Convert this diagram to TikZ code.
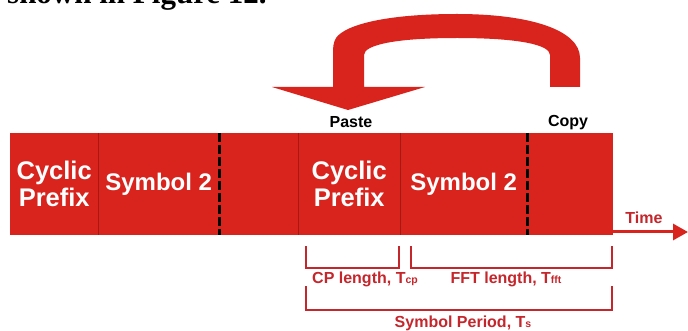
\documentclass[tikz,border=0pt]{standalone}
\usepackage{fontspec}
\setmainfont{Liberation Sans}
\newfontfamily\serifbold{Liberation Serif}
\usetikzlibrary{arrows.meta}
\definecolor{ofdmred}{RGB}{217,35,29}
\definecolor{lblred}{RGB}{196,38,44}
\definecolor{divred}{RGB}{165,25,20}
\newcommand{\lblsub}[1]{\raisebox{-0.5pt}{\fontsize{10.5}{10.5}\selectfont #1}}
\begin{document}
\begin{tikzpicture}[x=1pt,y=-1pt,
  seg/.style={fill=ofdmred, draw=none, inner sep=0pt, minimum height=102pt,
    anchor=north west, text=white, font=\fontsize{24}{27}\selectfont\bfseries, align=center},
  cpfont/.style={font=\fontsize{25.5}{27}\selectfont\bfseries},
  divline/.style={draw=divred, line width=0.6pt},
  dashline/.style={draw=black, line width=2.4pt, dash pattern=on 9pt off 3pt},
  smalllbl/.style={font=\fontsize{16}{16}\selectfont\bfseries, inner sep=0pt},
  bracket/.style={draw=lblred, line width=2.4pt},
  timeline/.style={draw=ofdmred, line width=3pt, -{Triangle[length=15pt,width=16pt]}}]
\clip (0,0) rectangle (688,331);
\fill[white] (0,0) rectangle (688,331);

% cut-off caption line at the top
\node[anchor=base west, inner sep=0pt, font=\serifbold\fontsize{31}{31}\selectfont\bfseries] (cap) at (7,4) {shown in Figure 12.};

% symbol bar
\node[seg, cpfont, minimum width=88pt]  (s1) at (10,133)  {Cyclic\\Prefix};
\node[seg, minimum width=121pt] (s2) at (98,133)  {Symbol 2};
\node[seg, minimum width=79pt]  (s3) at (219,133) {};
\node[seg, cpfont, minimum width=102pt] (s4) at (298,133) {Cyclic\\Prefix};
\node[seg, minimum width=127pt] (s5) at (400,133) {Symbol 2};
\node[seg, minimum width=86pt]  (s6) at (527,133) {};

\draw[divline] (s1.north east) -- (s1.south east);
\draw[divline] (s3.north east) -- (s3.south east);
\draw[divline] (s4.north east) -- (s4.south east);
\draw[dashline] (s2.north east) -- (s2.south east);
\draw[dashline] (s5.north east) -- (s5.south east);

% time axis
\coordinate (tstart) at (613,232);
\coordinate (tend) at (688,232);
\draw[timeline] (tstart) -- (tend);
\node[smalllbl, text=lblred] (time) at (644,218) {Time};

% copy / paste labels
\node[smalllbl] (paste) at (351,122) {Paste};
\node[smalllbl] (copy) at (568,123) {Copy};

% big curved copy->paste arrow
\fill[ofdmred] (580,87) -- (580,58)
  .. controls (580,30) and (530,14) .. (457,14)
  .. controls (385,14) and (345,25) .. (336,38)
  .. controls (333,43) and (333,48) .. (333,55)
  -- (333,87) -- (272,87) -- (348,110) -- (425,87) -- (364,87) -- (364,55)
  .. controls (364,45) and (395,38) .. (457,38)
  .. controls (520,38) and (550,45) .. (550,55)
  -- (550,87) -- cycle;

% brackets
\coordinate (cpa) at (306,246); \coordinate (cpb) at (399,246);
\coordinate (ffa) at (411,246); \coordinate (ffb) at (612,246);
\coordinate (spa) at (306,286); \coordinate (spb) at (612,286);
\draw[bracket] (cpa) -- ++(0,22) -| (cpb);
\draw[bracket] (ffa) -- ++(0,22) -| (ffb);
\draw[bracket] (spa) -- ++(0,24) -| (spb);

\node[smalllbl, text=lblred] (cpl) at (365,279) {CP length, T\lblsub{cp}};
\node[smalllbl, text=lblred] (ffl) at (506,279) {FFT length, T\lblsub{fft}};
\node[smalllbl, text=lblred] (spl) at (463,323) {Symbol Period, T\lblsub{s}};
\end{tikzpicture}
\end{document}
